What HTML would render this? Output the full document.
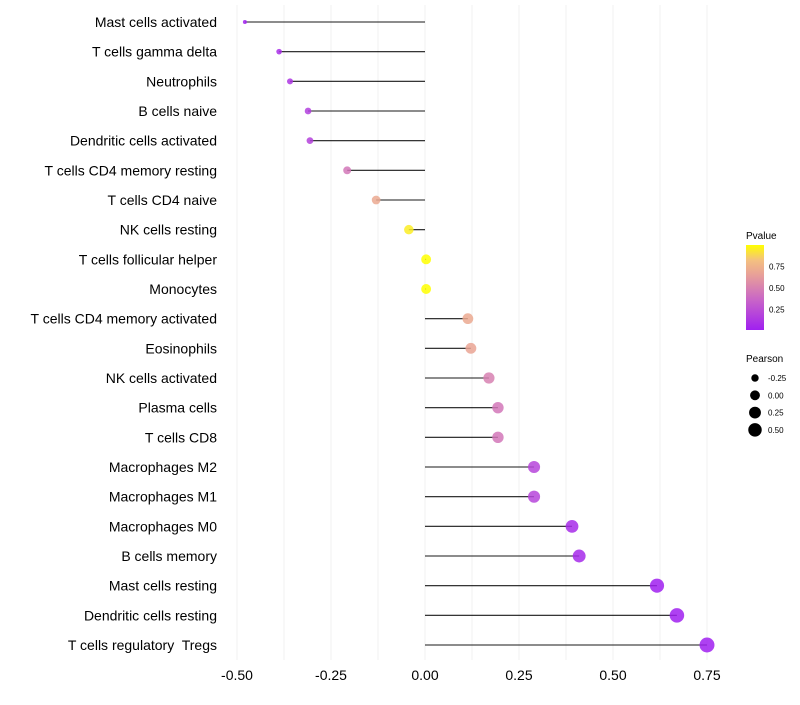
<!DOCTYPE html>
<html><head><meta charset="utf-8"><style>
body{margin:0;background:#fff;font-family:"Liberation Sans",sans-serif}
text{white-space:pre}
</style></head><body>
<svg id="chart" width="800" height="700" xmlns="http://www.w3.org/2000/svg">
<defs><linearGradient id="pg" x1="0" y1="1" x2="0" y2="0">
<stop offset="0" stop-color="#A020F0"/><stop offset="0.35" stop-color="#C864C8"/><stop offset="0.65" stop-color="#E8A098"/><stop offset="0.82" stop-color="#F4C080"/><stop offset="1" stop-color="#FFFF00"/></linearGradient></defs>
<g id="grid"></g><g id="marks"></g><g id="labels"></g><g id="legend"></g>
</svg>
<script>
const categories=["Mast cells activated","T cells gamma delta","Neutrophils","B cells naive","Dendritic cells activated","T cells CD4 memory resting","T cells CD4 naive","NK cells resting","T cells follicular helper","Monocytes","T cells CD4 memory activated","Eosinophils","NK cells activated","Plasma cells","T cells CD8","Macrophages M2","Macrophages M1","Macrophages M0","B cells memory","Mast cells resting","Dendritic cells resting","T cells regulatory  Tregs"];
const pearson=[-0.479,-0.388,-0.359,-0.311,-0.306,-0.207,-0.130,-0.043,0.003,0.003,0.114,0.122,0.170,0.194,0.194,0.290,0.290,0.391,0.410,0.617,0.670,0.750];
const pvalue=[0.02,0.08,0.12,0.17,0.18,0.45,0.7,0.95,1.0,1.0,0.7,0.68,0.5,0.45,0.45,0.2,0.2,0.07,0.06,0.01,0.005,0.002];
const xTicks=[-0.5,-0.25,0,0.25,0.5,0.75];
const xTickLabels=["-0.50","-0.25","0.00","0.25","0.50","0.75"];
const sizeLegend=[-0.25,0,0.25,0.5];
const sizeLegendLabels=["-0.25","0.00","0.25","0.50"];
const NS="http://www.w3.org/2000/svg";
const x=v=>425+v*376;
const y=i=>22+i*(623/21);
const r=v=>Math.sqrt(Math.max(1,4+(v+0.48)/1.23*52));
const stops=[[0,[160,32,240]],[0.35,[200,100,200]],[0.65,[232,160,152]],[0.82,[244,192,128]],[1,[255,255,0]]];
function col(p){const t=Math.min(1,Math.max(0,(p-0.01)/0.99));for(let k=1;k<stops.length;k++){if(t<=stops[k][0]){const a=stops[k-1],b=stops[k],f=(t-a[0])/(b[0]-a[0]);return `rgb(${a[1].map((c,j)=>Math.round(c+(b[1][j]-c)*f)).join(',')})`;}}return 'rgb(255,255,0)';}
function mk(tag,at,par){const e=document.createElementNS(NS,tag);for(const k in at)e.setAttribute(k,at[k]);document.getElementById(par).appendChild(e);return e;}
for(let v=-0.5;v<=0.751;v+=0.125){const g=mk('line',{x1:x(v),x2:x(v),y1:5,y2:660,stroke:'#f0f0f0','stroke-width':1},'grid');

}
xTicks.forEach((v,i)=>{const t=mk('text',{x:x(v),y:680,'text-anchor':'middle','font-size':14,fill:'#000'},'labels');t.textContent=xTickLabels[i];

});
categories.forEach((c,i)=>{
const t=mk('text',{x:217,y:y(i)+5,'text-anchor':'end','font-size':14,fill:'#000'},'labels');t.textContent=c;


const l=mk('line',{x1:x(0),x2:x(pearson[i]),y1:y(i),y2:y(i),stroke:'#000','stroke-width':1.1,'stroke-opacity':0.9},'marks');


const d=mk('circle',{cx:x(pearson[i]),cy:y(i),r:r(pearson[i]),fill:col(pvalue[i]),'fill-opacity':0.85},'marks');


});
const lt=mk('text',{x:746,y:239,'font-size':10},'legend');lt.textContent='Pvalue';


const cb=mk('rect',{x:746,y:245,width:18,height:85,fill:'url(#pg)'},'legend');


[[0.75,'0.75'],[0.5,'0.50'],[0.25,'0.25']].forEach(([p,s])=>{const yy=330-(p-0.01)/0.99*85;const t=mk('text',{x:769,y:yy+3,'font-size':8},'legend');t.textContent=s;

});
const st=mk('text',{x:746,y:362,'font-size':10},'legend');st.textContent='Pearson';


sizeLegend.forEach((v,i)=>{const yy=378+i*17.3;const c=mk('circle',{cx:755,cy:yy,r:r(v),fill:'#000'},'legend');


const t=mk('text',{x:768,y:yy+3,'font-size':8},'legend');t.textContent=sizeLegendLabels[i];

});
</script>
</body></html>
